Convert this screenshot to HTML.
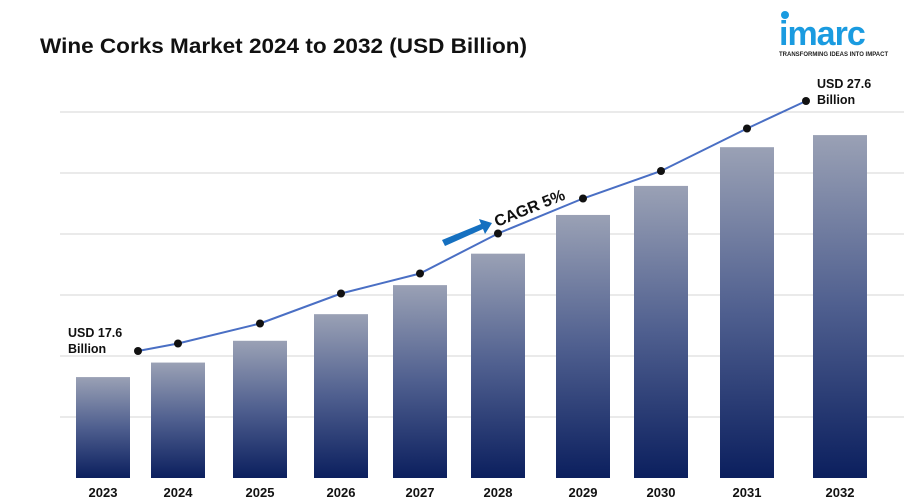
<!DOCTYPE html>
<html><head><meta charset="utf-8"><style>
body{margin:0;background:#fff;font-family:"Liberation Sans",sans-serif;}
svg{display:block}
</style></head><body>
<svg width="904" height="504" viewBox="0 0 904 504">
<defs>
<linearGradient id="bg" x1="0" y1="0" x2="0" y2="1">
<stop offset="0" stop-color="#9aa1b5"/><stop offset="0.5" stop-color="#4f5f8f"/><stop offset="1" stop-color="#0b1f5e"/>
</linearGradient>
</defs>
<text x="40" y="53" font-size="21" font-weight="bold" fill="#111" textLength="487" lengthAdjust="spacingAndGlyphs">Wine Corks Market 2024 to 2032 (USD Billion)</text>
<g>
<circle cx="785" cy="15" r="4" fill="#1a9be0"/>
<text x="779" y="45" font-size="34" font-weight="bold" fill="#1a9be0" letter-spacing="-1">imarc</text>
<text x="779" y="56" font-size="6" font-weight="bold" fill="#222">TRANSFORMING IDEAS INTO IMPACT</text>
</g>
<g id="grid"></g><g id="bars"></g><g id="line"></g><g id="xlabels"></g>
<text x="68" y="337" font-size="12.5" font-weight="bold" fill="#111"><tspan x="68">USD 17.6</tspan><tspan x="68" dy="16">Billion</tspan></text>
<text x="817" y="88" font-size="12.5" font-weight="bold" fill="#111"><tspan x="817">USD 27.6</tspan><tspan x="817" dy="16">Billion</tspan></text>
<g>
<polygon points="442,240 481,224 479,219 492,223 485,234 483,229 445,246" fill="#1570c0"/>
<text x="0" y="0" font-size="16" font-weight="bold" fill="#111" transform="translate(497,227) rotate(-22)">CAGR 5%</text>
</g>
</svg>
<script>
const categories=["2023","2024","2025","2026","2027","2028","2029","2030","2031","2032"];
const barValues=[17.6,18.2,19.1,20.2,21.4,22.7,24.3,25.5,27.1,27.6];
const trendValues=[17.6,17.9,18.7,19.9,20.7,22.3,23.7,24.8,26.5,27.6];
const NS="http://www.w3.org/2000/svg";
const centers=[103,178,260,341,420,498,583,661,747,840];
function x(i){return centers[i];}
function yBar(v){return 478-(v-13.43)*24.2;}
function yLine(v){return 791-25*v;}
function lineX(i){return x(i)+(i===0?35:(i===categories.length-1?-34:0));}
function mk(t,a,p){const e=document.createElementNS(NS,t);for(const k in a)e.setAttribute(k,a[k]);p.appendChild(e);return e;}
const grid=document.getElementById('grid');
for(let k=1;k<=6;k++){const g=mk('line',{x1:60,x2:904,y1:478-61*k,y2:478-61*k,stroke:'#d4d4d4','stroke-width':1},grid);

}
const bars=document.getElementById('bars');
barValues.forEach((v,i)=>{const y=yBar(v);const r=mk('rect',{x:x(i)-27,y:y,width:54,height:478-y,fill:'url(#bg)'},bars);

});
const lg=document.getElementById('line');
const pts=trendValues.map((v,i)=>lineX(i)+','+yLine(v)).join(' ');
const pl=mk('polyline',{points:pts,fill:'none',stroke:'#4a6fc4','stroke-width':2},lg);


trendValues.forEach((v,i)=>{const c=mk('circle',{cx:lineX(i),cy:yLine(v),r:4,fill:'#111'},lg);

});
const xl=document.getElementById('xlabels');
categories.forEach((c,i)=>{const t=mk('text',{x:x(i),y:497,'font-size':13,'font-weight':'bold','text-anchor':'middle',fill:'#111'},xl);t.textContent=c;

});
</script>
</body></html>
